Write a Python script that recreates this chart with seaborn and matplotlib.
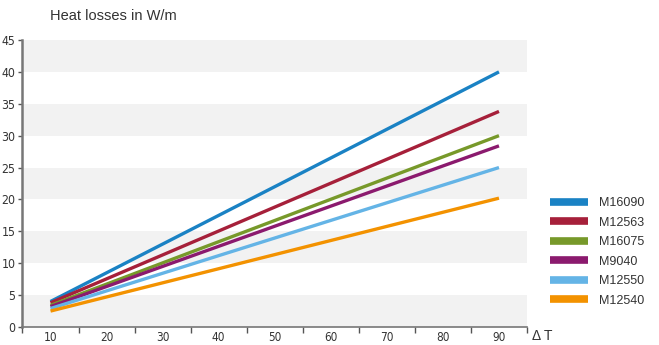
import matplotlib.pyplot as plt
import pandas as pd
import numpy as np
import seaborn as sns
from matplotlib.lines import Line2D

# data
delta_t = [10, 90]
series = ['M16090', 'M12563', 'M16075', 'M9040', 'M12550', 'M12540']
m16090 = [4.0, 40.0]
m12563 = [3.8, 33.8]
m16075 = [3.4, 30.0]
m9040 = [3.2, 28.4]
m12550 = [2.9, 25.0]
m12540 = [2.5, 20.2]
colors = ['#1a82c4', '#a6203a', '#77992a', '#8b1a6e', '#64b4e6', '#f39200']
x_labels = [10, 20, 30, 40, 50, 60, 70, 80, 90]
y_ticks = [0, 5, 10, 15, 20, 25, 30, 35, 40, 45]

rows = []
for name, vals in zip(series, [m16090, m12563, m16075, m9040, m12550, m12540]):
    for t, v in zip(delta_t, vals):
        rows.append({'dT': t, 'loss': v, 'type': name})
df = pd.DataFrame(rows)

sns.set_style('white')
plt.rcParams['font.family'] = ['DejaVu Sans']
plt.rcParams['font.stretch'] = 'condensed'

fig = plt.figure(figsize=(6.59, 3.45), dpi=100)
ax = fig.add_axes([22.5/659, 18/345, (527-22.5)/659, (327-40)/345])

# alternating grey bands
for lo in range(0, 45, 10):
    ax.axhspan(lo, lo + 5, color='#f2f2f2', zorder=0, lw=0)

sns.lineplot(data=df, x='dT', y='loss', hue='type', hue_order=series,
             palette=colors, linewidth=2.4, ax=ax, legend=False)
for ln in ax.get_lines():
    ln.set_solid_capstyle('butt')

ax.set_xlim(5, 95)
ax.set_ylim(0, 45)
ax.set_xticks(np.arange(5, 96, 10))
ax.set_xticklabels([])
ax.set_xticks(x_labels, minor=True)
ax.set_xticklabels([str(v) for v in x_labels], minor=True)
ax.tick_params(axis='x', which='major', length=4, width=1, color='#555555', direction='out', bottom=True)
ax.tick_params(axis='x', which='minor', length=0, labelsize=8.5, colors='#333333', pad=3)
ax.set_yticks(y_ticks)
ax.tick_params(axis='y', length=3, width=1, color='#555555', labelsize=8.8, labelcolor='#333333', left=True, pad=2)
ax.set_xlabel('')
ax.set_ylabel('')
for side in ['top', 'right']:
    ax.spines[side].set_visible(False)
ax.spines['left'].set_color('#777777')
ax.spines['left'].set_linewidth(1.8)
ax.spines['bottom'].set_color('#777777')
ax.spines['bottom'].set_linewidth(1.2)

fig.text(50/659, 1 - 16/345, 'Heat losses in W/m', fontsize=10.5, color='#333333',
         family=['Liberation Sans', 'DejaVu Sans'], stretch='normal', va='center', ha='left')
fig.text(532/659, 1 - 336/345, 'Δ T', fontsize=10, color='#333333',
         family=['Liberation Sans', 'DejaVu Sans'], stretch='normal', va='center', ha='left')

# legend on the right
handles = [Line2D([0], [0], color=c, lw=5.5, solid_capstyle='butt') for c in colors]
leg = fig.legend(handles, series, loc='upper left', bbox_to_anchor=(539/659, 1 - 186/345),
                 frameon=False, handlelength=3.0, handletextpad=0.9, labelspacing=0.6,
                 prop={'family': ['Liberation Sans', 'DejaVu Sans'], 'size': 9, 'stretch': 'normal'})
for t in leg.get_texts():
    t.set_color('#333333')

fig.savefig('out.png', dpi=100)
